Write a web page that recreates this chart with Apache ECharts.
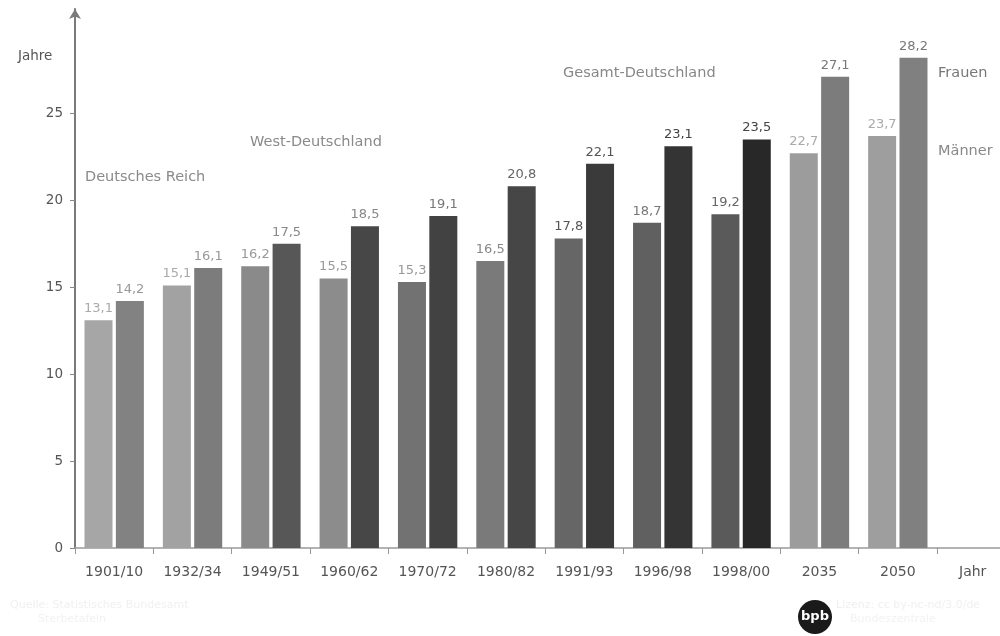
<!DOCTYPE html>
<html>
<head>
<meta charset="utf-8">
<script src="https://cdn.jsdelivr.net/npm/echarts@6/dist/echarts.min.js"></script>
<style>
html,body{margin:0;padding:0;background:#fff;}
#chart{width:1000px;height:636px;}
</style>
</head>
<body>
<div id="chart"></div>
<script>
// Data
const categories = ['1901/10','1932/34','1949/51','1960/62','1970/72','1980/82','1991/93','1996/98','1998/00','2035','2050'];
const maenner = [13.1, 15.1, 16.2, 15.5, 15.3, 16.5, 17.8, 18.7, 19.2, 22.7, 23.7];
const frauen  = [14.2, 16.1, 17.5, 18.5, 19.1, 20.8, 22.1, 23.1, 23.5, 27.1, 28.2];
const yTicks = [0, 5, 10, 15, 20, 25];

// Styles (per bar shades)
const maennerColors = ['#a6a6a6','#a2a2a2','#8a8a8a','#8c8c8c','#727272','#7a7a7a','#666666','#606060','#5a5a5a','#9c9c9c','#9e9e9e'];
const frauenColors  = ['#828282','#7c7c7c','#575757','#474747','#424242','#464646','#3a3a3a','#343434','#282828','#7c7c7c','#808080'];
const maennerLabelColors = ['#aaaaaa','#aaaaaa','#999999','#999999','#999999','#888888','#555555','#777777','#666666','#aaaaaa','#aaaaaa'];
const frauenLabelColors  = ['#999999','#999999','#888888','#888888','#777777','#666666','#555555','#444444','#444444','#777777','#777777'];

const fmt = v => v.toFixed(1).replace('.', ',');
const F = 'DejaVu Sans, sans-serif';

function build(vals, colors, lcolors) {
  return vals.map((v, i) => ({
    value: v,
    itemStyle: { color: colors[i] },
    label: { color: lcolors[i] }
  }));
}

const labelCfg = { show: true, position: 'top', distance: 4, fontFamily: F, fontSize: 13, formatter: p => fmt(p.value), backgroundColor: '#fff', padding: [1, 1] };

const chart = echarts.init(document.getElementById('chart'));
chart.setOption({
  backgroundColor: '#ffffff',
  animation: false,
  grid: { left: 75, right: 63, top: 9, bottom: 88, containLabel: false },
  xAxis: {
    type: 'category',
    data: categories,
    boundaryGap: true,
    name: 'Jahr',
    nameLocation: 'end',
    nameGap: 22,
    nameTextStyle: { color: '#555', fontFamily: F, fontSize: 14, verticalAlign: 'top', padding: [17, 0, 0, 0] },
    axisLine: { lineStyle: { color: '#9a9a9a', width: 1.5 } },
    axisTick: { show: true, length: 6, lineStyle: { color: '#999' } },
    axisLabel: { color: '#555', fontFamily: F, fontSize: 14, margin: 17 }
  },
  yAxis: {
    type: 'value',
    min: 0,
    max: 31,
    interval: 5,
    axisLine: { show: true, symbol: ['none', 'arrow'], symbolSize: [9, 10], lineStyle: { color: '#7a7a7a', width: 2 } },
    axisTick: { show: true, length: 5, customValues: yTicks, lineStyle: { color: '#888' } },
    axisLabel: { color: '#555', fontFamily: F, fontSize: 13.5, margin: 12, customValues: yTicks },
    splitLine: { show: false }
  },
  series: [
    { name: 'Männer', type: 'bar', barWidth: 28, barGap: '12%', data: build(maenner, maennerColors, maennerLabelColors), label: labelCfg },
    { name: 'Frauen', type: 'bar', barWidth: 28, data: build(frauen, frauenColors, frauenLabelColors), label: labelCfg }
  ]
});

// Extension of the x axis line to the right edge (decoration), computed from the axis scale
const last = chart.convertToPixel({ xAxisIndex: 0 }, categories.length - 1);
const first = chart.convertToPixel({ xAxisIndex: 0 }, 0);
const step = categories.length > 1 ? (last - first) / (categories.length - 1) : 0;
const axisEndX = last + step / 2;
const axisY = chart.convertToPixel({ yAxisIndex: 0 }, 0);

chart.setOption({
  graphic: [
    { type: 'line', shape: { x1: axisEndX, y1: axisY, x2: 1000, y2: axisY }, style: { stroke: '#9a9a9a', lineWidth: 1.5 } },
    { type: 'text', left: 18, top: 49, style: { text: 'Jahre', fill: '#555', font: '13.5px ' + F } },
    { type: 'text', left: 85, top: 170, style: { text: 'Deutsches Reich', fill: '#8a8a8a', font: '14.5px ' + F } },
    { type: 'text', left: 250, top: 135, style: { text: 'West-Deutschland', fill: '#8a8a8a', font: '14.5px ' + F } },
    { type: 'text', left: 563, top: 66, style: { text: 'Gesamt-Deutschland', fill: '#888', font: '14.5px ' + F } },
    { type: 'text', left: 938, top: 66, style: { text: 'Frauen', fill: '#777', font: '14.5px ' + F } },
    { type: 'text', left: 938, top: 144, style: { text: 'Männer', fill: '#888', font: '14.5px ' + F } },
    { type: 'text', left: 10, top: 600, style: { text: 'Quelle: Statistisches Bundesamt', fill: '#f0f0f0', font: '11px ' + F } },
    { type: 'text', left: 38, top: 614, style: { text: 'Sterbetafeln', fill: '#f2f2f2', font: '11px ' + F } },
    { type: 'circle', shape: { cx: 815, cy: 617, r: 17 }, style: { fill: '#1a1a1a' } },
    { type: 'text', x: 815, y: 617, style: { text: 'bpb', fill: '#fff', font: 'bold 13px ' + F, align: 'center', verticalAlign: 'middle' } },
    { type: 'text', left: 836, top: 600, style: { text: 'Lizenz: cc by-nc-nd/3.0/de', fill: '#f0f0f0', font: '11px ' + F } },
    { type: 'text', left: 850, top: 614, style: { text: 'Bundeszentrale', fill: '#f2f2f2', font: '11px ' + F } }
  ]
});
</script>
</body>
</html>
